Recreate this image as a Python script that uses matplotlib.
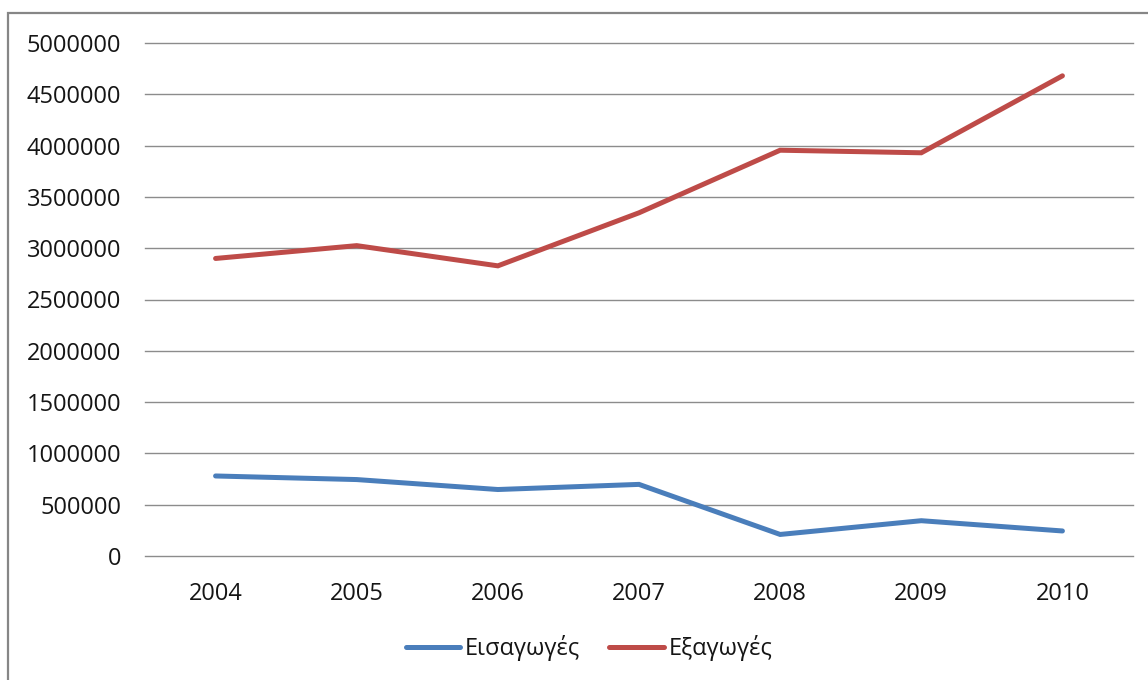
import matplotlib
matplotlib.use('Agg')
import matplotlib.pyplot as plt
from matplotlib.patches import Rectangle

# data
years = ['2004', '2005', '2006', '2007', '2008', '2009', '2010']
eisagoges = [780000, 745000, 648000, 698000, 210000, 344000, 244000]
exagoges = [2900000, 3025000, 2828000, 3345000, 3955000, 3930000, 4680000]
yticks = [0, 500000, 1000000, 1500000, 2000000, 2500000, 3000000,
          3500000, 4000000, 4500000, 5000000]

plt.rcParams['font.family'] = ['Open Sans', 'DejaVu Sans']

W, H = 1148, 680
fig = plt.figure(figsize=(W / 100, H / 100), dpi=100)
ax = fig.add_axes([145 / W, 1 - 556 / H, (1133 - 145) / W, (556 - 43) / H])

x = list(range(len(years)))
ax.plot(x, eisagoges, color='#4a7ebb', lw=3.6, solid_capstyle='round',
        solid_joinstyle='miter', label='Εισαγωγές', zorder=3)
ax.plot(x, exagoges, color='#be4b48', lw=3.6, solid_capstyle='round',
        solid_joinstyle='miter', label='Εξαγωγές', zorder=3)

ax.set_xlim(-0.5, len(years) - 0.5)
ax.set_ylim(0, 5000000)
ax.set_xticks(x)
ax.set_xticklabels(years)
ax.set_yticks(yticks)
ax.set_yticklabels([str(v) for v in yticks])

# only horizontal gridlines, no spines
ax.grid(True, axis='y', color='#8c8c8c', lw=1.0)
for gl in ax.get_ygridlines():
    gl.set_clip_on(False)
ax.set_axisbelow(True)
for s in ax.spines.values():
    s.set_visible(False)
ax.tick_params(axis='both', length=0, labelsize=17, colors='#151515')
ax.tick_params(axis='y', pad=17)
ax.tick_params(axis='x', pad=19)

leg = fig.legend(loc='center', bbox_to_anchor=(589 / W, 1 - 648 / H), ncol=2,
                 frameon=False, fontsize=17, handlelength=2.3,
                 handletextpad=0.2, columnspacing=1.25)
for t in leg.get_texts():
    t.set_color('#151515')

# outer chart border (cropped at right and bottom)
fig.patches.append(Rectangle((8 / W, -0.05), 1.1, 1 - 13 / H + 0.05,
                             transform=fig.transFigure, fill=False,
                             edgecolor='#868686', lw=1.6))

fig.savefig('out.png', dpi=100)
